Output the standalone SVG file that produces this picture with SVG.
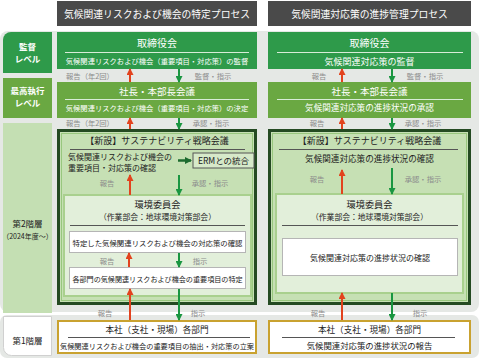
<svg xmlns="http://www.w3.org/2000/svg" width="480" height="361" viewBox="0 0 480 361">
<defs>
<style>
text{font-family:"Noto Sans CJK JP","Noto Sans",sans-serif;text-anchor:middle}
.hd{fill:#fff;font-size:9.8px}
.w{fill:#fff}
.k{fill:#222}
.lb{fill:#8c8c8c;font-size:7.3px}
.lv{fill:#fff;font-size:8.5px;font-weight:bold}
.big{fill:#c6e0b4;stroke:#244a22;stroke-width:3}
.bigin{fill:none;stroke:#98c77e;stroke-width:1}
.inner{fill:#e2efda;stroke:#a9d08e;stroke-width:2}
.wb{fill:#fff;stroke:#b5b5b5;stroke-width:1}
.gold{fill:#fff;stroke:#c9a230;stroke-width:2}
.red{stroke:#e2431e;stroke-width:2;fill:none;marker-end:url(#ar)}
.grn{stroke:#1a9641;stroke-width:2;fill:none;marker-end:url(#ag)}
.wl{stroke:#d8ecd8;stroke-width:1}
.dl{stroke:#555;stroke-width:1.2}
</style>
<marker id="ar" markerUnits="userSpaceOnUse" markerWidth="7" markerHeight="7" refX="6" refY="3.5" orient="auto"><path d="M0,0 L7,3.5 L0,7 z" fill="#e2431e"/></marker>
<marker id="ag" markerUnits="userSpaceOnUse" markerWidth="7" markerHeight="7" refX="6" refY="3.5" orient="auto"><path d="M0,0 L7,3.5 L0,7 z" fill="#1a9641"/></marker>
<marker id="ad" markerUnits="userSpaceOnUse" markerWidth="7" markerHeight="7" refX="6" refY="3.5" orient="auto"><path d="M0,0 L7,3.5 L0,7 z" fill="#1d6b2f"/></marker>
</defs>
<rect x="0" y="31" width="479" height="281" rx="8" fill="#e5e8e5"/>
<rect x="0" y="315" width="479" height="43" rx="7" fill="#e5e8e5"/>

<g id="header-left"><rect x="57" y="1" width="200" height="25" fill="#4a4a4a"/><text class="hd" x="157" y="17.5">気候関連リスクおよび機会の特定プロセス</text></g>
<g id="header-right"><rect x="268" y="1" width="203" height="25" fill="#4a4a4a"/><text class="hd" x="369.5" y="17.5">気候関連対応策の進捗管理プロセス</text></g>

<g id="level-kantoku"><path d="M3,73 V40 A8,8 0 0 1 11,32 H52 V73 Z" fill="#2e9a4a"/><text class="lv" x="27.5" y="50">監督</text><text class="lv" x="27.5" y="62">レベル</text></g>
<g id="level-saiko"><rect x="3" y="78" width="49" height="40" fill="#6aa842"/><text class="lv" x="27.5" y="94">最高執行</text><text class="lv" x="27.5" y="106">レベル</text></g>
<g id="level-2"><rect x="3" y="123" width="49" height="190" fill="#c4dfb3"/><text class="k" x="27.5" y="227" style="font-size:8.5px">第2階層</text><text class="k" x="27.5" y="239" style="font-size:7px">（2024年度〜）</text></g>
<g id="level-1"><path d="M3.5,316.5 H51.5 V355.5 H11.5 A8,8 0 0 1 3.5,347.5 Z" fill="#fff" stroke="#d0d0d0"/><text class="k" x="27.5" y="344" style="font-size:8.5px">第1階層</text></g>

<g id="board-left"><rect x="57" y="32" width="200" height="37" fill="#2e9a4a"/><text class="w" x="157" y="47" style="font-size:10px">取締役会</text><line class="wl" x1="65" y1="52.5" x2="249" y2="52.5"/><text class="w" x="157" y="64" style="font-size:7.3px">気候関連リスクおよび機会（重要項目・対応策）の監督</text></g>
<g id="board-right"><rect x="268" y="32" width="203" height="37" fill="#2e9a4a"/><text class="w" x="369.5" y="47" style="font-size:10px">取締役会</text><line class="wl" x1="277" y1="52.5" x2="463" y2="52.5"/><text class="w" x="369.5" y="64.5" style="font-size:9px">気候関連対応策の監督</text></g>

<g id="exec-left"><rect x="57" y="82" width="200" height="36" fill="#6aa842"/><text class="w" x="157" y="94.5" style="font-size:9.5px">社長・本部長会議</text><line class="wl" x1="65" y1="99.5" x2="249" y2="99.5"/><text class="w" x="157" y="110.5" style="font-size:7.3px">気候関連リスクおよび機会（重要項目・対応策）の決定</text></g>
<g id="exec-right"><rect x="268" y="82" width="203" height="36" fill="#6aa842"/><text class="w" x="369.5" y="94.5" style="font-size:9.5px">社長・本部長会議</text><line class="wl" x1="277" y1="99.5" x2="463" y2="99.5"/><text class="w" x="369.5" y="110.5" style="font-size:8.6px">気候関連対応策の進捗状況の承認</text></g>

<g id="sustain-left"><rect class="big" x="58.5" y="130.5" width="197" height="173"/><rect class="bigin" x="61.5" y="133.5" width="191" height="167"/>
<text class="k" x="157" y="144" style="font-size:9px">【新設】サステナビリティ戦略会議</text><line class="dl" x1="70" y1="149.5" x2="245" y2="149.5"/>
<text class="k" x="68" y="159.5" style="font-size:8px;text-anchor:start">気候関連リスクおよび機会の</text><text class="k" x="68" y="171.2" style="font-size:8px;text-anchor:start">重要項目・対応策の確認</text></g>
<g id="erm"><rect x="193" y="153" width="61" height="15" fill="#d6e9c9" stroke="#555"/><text class="k" x="223.5" y="164" style="font-size:8.5px">ERMとの統合</text></g>
<g id="env-left"><rect class="inner" x="64" y="195" width="187" height="101"/><text class="k" x="157.5" y="208" style="font-size:9.2px">環境委員会</text><text class="k" x="157.5" y="220" style="font-size:7.8px">（作業部会：地球環境対策部会）</text><line class="dl" x1="70" y1="225.5" x2="245" y2="225.5"/></g>
<g id="task-left-1"><rect class="wb" x="69.5" y="231.5" width="176" height="21"/><text class="k" x="157.5" y="245.5" style="font-size:7.4px">特定した気候関連リスクおよび機会の対応策の確認</text></g>
<g id="task-left-2"><rect class="wb" x="69.5" y="267.5" width="176" height="21"/><text class="k" x="157.5" y="281.5" style="font-size:7.1px">各部門の気候関連リスクおよび機会の重要項目の特定</text></g>

<g id="sustain-right"><rect class="big" x="269.5" y="130.5" width="200" height="173"/><rect class="bigin" x="272.5" y="133.5" width="194" height="167"/>
<text class="k" x="369.5" y="144" style="font-size:9px">【新設】サステナビリティ戦略会議</text><line class="dl" x1="279" y1="149.5" x2="458" y2="149.5"/>
<text class="k" x="369.5" y="162" style="font-size:8.6px">気候関連対応策の進捗状況の確認</text></g>
<g id="env-right"><rect class="inner" x="276" y="194" width="187" height="99"/><text class="k" x="369.5" y="207.5" style="font-size:9.2px">環境委員会</text><text class="k" x="369.5" y="220" style="font-size:7.8px">（作業部会：地球環境対策部会）</text><line class="dl" x1="282" y1="225.5" x2="458" y2="225.5"/></g>
<g id="task-right"><rect class="wb" x="282.5" y="238.5" width="175" height="37"/><text class="k" x="370" y="261" style="font-size:8px">気候関連対応策の進捗状況の確認</text></g>

<g id="dept-left"><rect class="gold" x="58" y="321" width="198" height="32"/><text class="k" x="157" y="333" style="font-size:8.6px">本社（支社・現場）各部門</text><line class="dl" x1="68" y1="337.5" x2="250" y2="337.5"/><text class="k" x="157" y="349" style="font-size:7.2px">気候関連リスクおよび機会の重要項目の抽出・対応策の立案</text></g>
<g id="dept-right"><rect class="gold" x="269" y="321" width="201" height="32"/><text class="k" x="369.5" y="333" style="font-size:8.6px">本社（支社・現場）各部門</text><line class="dl" x1="282" y1="337.5" x2="455" y2="337.5"/><text class="k" x="369.5" y="349" style="font-size:8.4px">気候関連対応策の進捗状況の報告</text></g>

<g id="connectors">
<line class="red" x1="130" y1="82" x2="130" y2="69"/><line class="grn" x1="179" y1="69" x2="179" y2="82"/>
<text class="lb" x="90" y="79">報告（年2回）</text><text class="lb" x="213" y="79">監督・指示</text>
<line class="red" x1="342" y1="82" x2="342" y2="69"/><line class="grn" x1="392" y1="69" x2="392" y2="82"/>
<text class="lb" x="319" y="79">報告</text><text class="lb" x="425" y="79">監督・指示</text>

<line class="red" x1="130" y1="129" x2="130" y2="118"/><line class="grn" x1="179" y1="118" x2="179" y2="129"/>
<text class="lb" x="90" y="126">報告（年2回）</text><text class="lb" x="211" y="126">承認・指示</text>
<line class="red" x1="342" y1="129" x2="342" y2="118"/><line class="grn" x1="392" y1="118" x2="392" y2="129"/>
<text class="lb" x="317" y="126">報告</text><text class="lb" x="423" y="126">承認・指示</text>

<line x1="178" y1="160.5" x2="191" y2="160.5" stroke="#1d6b2f" stroke-width="2.5" marker-end="url(#ad)"/>
<line class="red" x1="130" y1="195" x2="130" y2="175"/><line class="grn" x1="179" y1="175" x2="179" y2="195"/>
<text class="lb" x="107" y="186">報告</text><text class="lb" x="210" y="186">承認・指示</text>
<line class="red" x1="342" y1="194" x2="342" y2="170"/><line class="grn" x1="392" y1="168" x2="392" y2="194"/>
<text class="lb" x="317" y="182">報告</text><text class="lb" x="423" y="182">承認・指示</text>

<line class="red" x1="129" y1="267" x2="129" y2="253"/><line class="grn" x1="179" y1="253" x2="179" y2="267"/>
<text class="lb" x="107" y="264">報告</text><text class="lb" x="200" y="264">指示</text>

<line class="red" x1="130" y1="320" x2="130" y2="289"/><line class="grn" x1="179" y1="289" x2="179" y2="320"/>
<text class="lb" x="105" y="316">報告</text><text class="lb" x="198" y="316">指示</text>
<line class="red" x1="342" y1="320" x2="342" y2="293"/><line class="grn" x1="392" y1="293" x2="392" y2="320"/>
<text class="lb" x="318" y="316">報告</text><text class="lb" x="420" y="316">指示</text>
</g>
</svg>
